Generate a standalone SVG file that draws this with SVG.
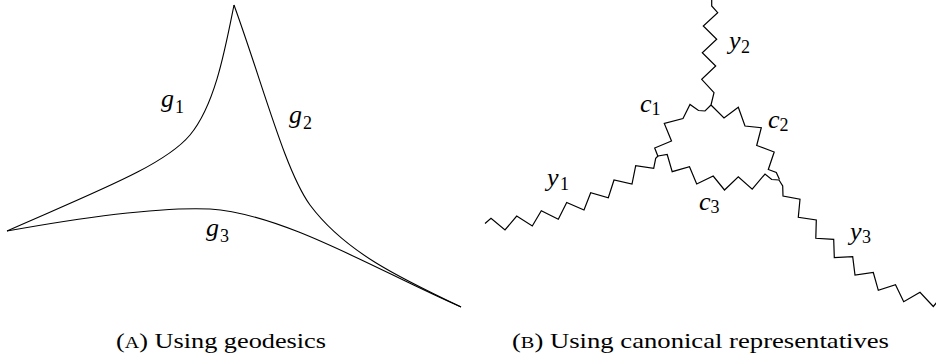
<svg xmlns="http://www.w3.org/2000/svg" width="936" height="356" viewBox="0 0 936 356">
  <style>
    .curve { fill: none; stroke: #000; stroke-width: 1.1; stroke-linejoin: round; }
    .zz { fill: none; stroke: #000; stroke-width: 1.2; stroke-linejoin: miter; }
    text { font-family: 'Liberation Serif', 'Times New Roman', Tinos, 'Noto Serif', 'DejaVu Serif', Times, serif; }
    .lbl { font-size: 26px; font-style: italic; fill: #000; }
    .sub { font-style: normal; font-size: 18px; }
    .cap { font-size: 21px; fill: #000; }
    .sc { font-size: 16px; }
  </style>
  <rect width="936" height="356" fill="#fff"/>

  <!-- (A) Using geodesics -->
  <g id="fig-a">
    <g id="connectors-a">
      <path id="g1" class="curve" d="M7,231 C100,190 165,165 190,135 C215,105 225,50 234,5"/>
      <path id="g2" class="curve" d="M234,5 C264,88 285,170 310,205 C345,252 400,278 461,307"/>
      <path id="g3" class="curve" d="M7,231 C90,216 165,207 210,209 C285,214 380,272 461,307"/>
    </g>
    <g id="label-g1"><text class="lbl" x="161" y="107">g<tspan class="sub" x="175" y="113">1</tspan></text></g>
    <g id="label-g2"><text class="lbl" x="289" y="123">g<tspan class="sub" x="303" y="128.5">2</tspan></text></g>
    <g id="label-g3"><text class="lbl" x="206" y="236">g<tspan class="sub" x="220" y="242">3</tspan></text></g>
  </g>

  <!-- (B) Using canonical representatives -->
  <g id="fig-b">
    <g id="connectors-b">
      <polyline id="y2" class="zz" points="711.7,0 711.7,6 717.7,12.7 703.3,26 716.7,39.3 702.3,52.7 715.7,66 701.7,79.3 714,92.7 711,105"/>
      <polyline id="c1" class="zz" points="711,105 705,111 698.5,110.5 690,104.5 683,118.5 664.3,123.5 671.5,141 654.7,148 658,156.5"/>
      <polyline id="c2" class="zz" points="711,105 724,118 738.3,107.2 745,126 761.3,127.7 756.7,145.5 774.2,152 768.3,169.5 776.3,172.5 779.5,179.5"/>
      <polyline id="c3" class="zz" points="658,156 667.2,154.5 672.2,171.7 689.5,166.7 696.7,184 713.2,176 724.5,190 738.3,176.7 752.2,189.2 765,174 771.7,179.5 779,180"/>
      <polyline id="y1" class="zz" points="485,223.5 491,218.3 505,230 516.7,216 532.3,226 541.3,210.7 558.3,219.3 566.7,202.5 584,210 590.7,192.7 608.3,197.8 614,180 632,184 635.7,165.7 653.7,168.3 655.7,158.3 658,156"/>
      <polyline id="y3" class="zz" points="779,180 782.7,186 783,196 800,199.2 798.3,217.3 816.3,220 815.8,238.3 833.7,239.3 834.3,257.5 852.7,256.7 855,275 873.3,272.5 878.3,290.3 895.5,284.7 903.7,301.7 920,292.3 933.3,306.5 937,302"/>
    </g>
    <g id="label-y2"><text class="lbl" x="729" y="49">y<tspan class="sub" x="741" y="53">2</tspan></text></g>
    <g id="label-c1"><text class="lbl" x="640" y="112">c<tspan class="sub" x="651.5" y="115">1</tspan></text></g>
    <g id="label-c2"><text class="lbl" x="768" y="128">c<tspan class="sub" x="779.5" y="131">2</tspan></text></g>
    <g id="label-c3"><text class="lbl" x="699" y="210">c<tspan class="sub" x="710.5" y="213">3</tspan></text></g>
    <g id="label-y1"><text class="lbl" x="547" y="186">y<tspan class="sub" x="560" y="190">1</tspan></text></g>
    <g id="label-y3"><text class="lbl" x="850" y="239.5">y<tspan class="sub" x="862" y="243">3</tspan></text></g>
  </g>

  <g id="captions">
    <text class="cap" x="116" y="348" textLength="210" lengthAdjust="spacingAndGlyphs">(<tspan class="sc">A</tspan>) Using geodesics</text>
    <text class="cap" x="512" y="348" textLength="377" lengthAdjust="spacingAndGlyphs">(<tspan class="sc">B</tspan>) Using canonical representatives</text>
  </g>
</svg>
